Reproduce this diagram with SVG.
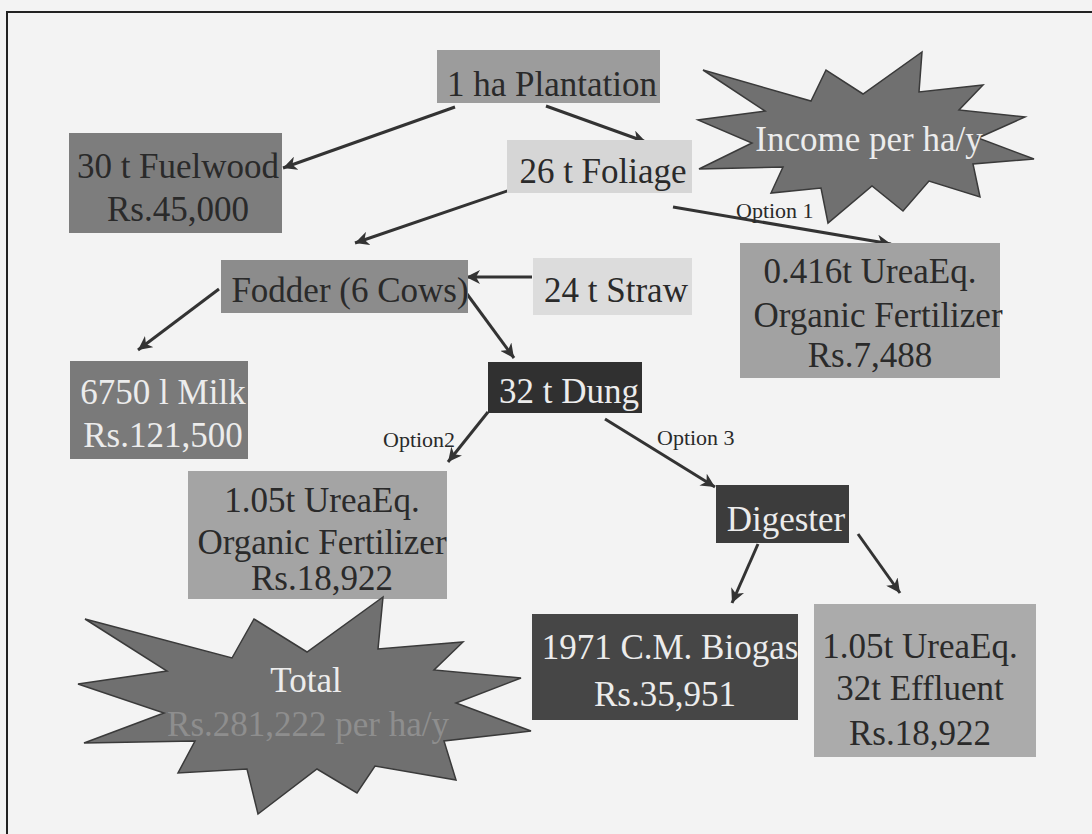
<svg xmlns="http://www.w3.org/2000/svg" width="1092" height="834" viewBox="0 0 1092 834">
<defs>
<style>
.t{font-family:"Liberation Serif","Times New Roman",serif;font-size:35px;text-anchor:middle}
.d{fill:#2a2a2a}
.w{fill:#ececec}
.o{font-family:"Liberation Serif","Times New Roman",serif;font-size:22px;fill:#2a2a2a}
.c{stroke:#333;stroke-width:3;fill:none;marker-end:url(#ah)}
.s{fill:#707070;stroke:#3a3a3a;stroke-width:1.5;stroke-linejoin:miter}
</style>
<marker id="ah" markerUnits="userSpaceOnUse" markerWidth="16" markerHeight="14" refX="14" refY="7" orient="auto">
<path d="M0,0 L14,7 L0,14 L4,7 Z" fill="#333"/>
</marker>
</defs>
<rect x="0" y="0" width="1092" height="834" fill="#f3f3f3"/>
<path d="M7,834 V12 H1092" fill="none" stroke="#222" stroke-width="2"/>

<g id="connectors">
<line class="c" x1="455" y1="107" x2="283" y2="168"/>
<line class="c" x1="546" y1="106" x2="646" y2="142"/>
<line class="c" x1="513" y1="189" x2="355" y2="243"/>
<line class="c" x1="673" y1="207" x2="891" y2="244"/>
<line class="c" x1="532" y1="277" x2="466" y2="277"/>
<line class="c" x1="219" y1="289" x2="138" y2="350"/>
<line class="c" x1="467" y1="294" x2="514" y2="358"/>
<line class="c" x1="488" y1="412" x2="448" y2="462"/>
<line class="c" x1="605" y1="419" x2="715" y2="487"/>
<line class="c" x1="758" y1="544" x2="732" y2="603"/>
<line class="c" x1="858" y1="534" x2="900" y2="593"/>
<text class="o" x="736" y="218">Option 1</text>
<text class="o" x="383" y="447">Option2</text>
<text class="o" x="657" y="445">Option 3</text>
</g>

<g id="income-star">
<polygon class="s" points="703,70 811,101 826,70 863,94 922,52 919,92 983,85 959,110 1025,117 978,138 1034,159 973,164 980,197 929,181 903,211 872,186 828,223 821,188 771,193 783,167 699,169 752,143 698,120 765,111"/>
<text class="t w" x="869" y="151">Income per ha/y</text>
</g>

<g id="plantation">
<rect x="437" y="50" width="223" height="53" fill="#9c9c9c"/>
<text class="t d" x="552" y="96">1 ha Plantation</text>
</g>

<g id="fuelwood">
<rect x="69" y="133" width="213" height="100" fill="#7d7d7d"/>
<text class="t d" x="178" y="178">30 t Fuelwood</text>
<text class="t d" x="178" y="221">Rs.45,000</text>
</g>

<g id="foliage">
<rect x="507" y="140" width="185" height="53" fill="#d6d6d6"/>
<text class="t d" x="603" y="183">26 t Foliage</text>
</g>

<g id="fodder">
<rect x="221" y="260" width="247" height="53" fill="#8c8c8c"/>
<text class="t d" x="350" y="302">Fodder (6 Cows)</text>
</g>

<g id="straw">
<rect x="533" y="258" width="159" height="57" fill="#dcdcdc"/>
<text class="t d" x="616" y="302">24 t Straw</text>
</g>

<g id="fert1">
<rect x="740" y="243" width="260" height="135" fill="#a2a2a2"/>
<text class="t d" x="870" y="283">0.416t UreaEq.</text>
<text class="t d" x="878" y="327">Organic Fertilizer</text>
<text class="t d" x="870" y="367">Rs.7,488</text>
</g>

<g id="milk">
<rect x="70" y="361" width="178" height="98" fill="#7a7a7a"/>
<text class="t w" x="163" y="404">6750 l Milk</text>
<text class="t w" x="163" y="447">Rs.121,500</text>
</g>

<g id="dung">
<rect x="488" y="362" width="154" height="51" fill="#303030"/>
<text class="t w" x="569" y="403">32 t Dung</text>
</g>

<g id="fert2">
<rect x="188" y="471" width="259" height="128" fill="#a4a4a4"/>
<text class="t d" x="322" y="512">1.05t UreaEq.</text>
<text class="t d" x="322" y="554">Organic Fertilizer</text>
<text class="t d" x="322" y="590">Rs.18,922</text>
</g>

<g id="digester">
<rect x="716" y="485" width="133" height="58" fill="#3c3c3c"/>
<text class="t w" x="786" y="531">Digester</text>
</g>

<g id="biogas">
<rect x="532" y="614" width="266" height="106" fill="#464646"/>
<text class="t w" x="670" y="659">1971 C.M. Biogas</text>
<text class="t w" x="665" y="706">Rs.35,951</text>
</g>

<g id="effluent">
<rect x="814" y="604" width="222" height="153" fill="#ababab"/>
<text class="t d" x="920" y="658">1.05t UreaEq.</text>
<text class="t d" x="920" y="700">32t Effluent</text>
<text class="t d" x="920" y="745">Rs.18,922</text>
</g>

<g id="total-star">
<polygon class="s" points="85,619 232,658 254,619 307,652 383,597 378,649 463,642 434,670 521,678 456,703 531,731 444,741 456,780 375,766 357,793 317,769 258,814 247,769 178,773 195,741 84,743 164,713 78,684 167,671"/>
<text class="t w" x="306" y="692" font-size="34">Total</text>
<text class="t" x="308" y="736" font-size="34" fill="#8e8e8e">Rs.281,222 per ha/y</text>
</g>
</svg>
